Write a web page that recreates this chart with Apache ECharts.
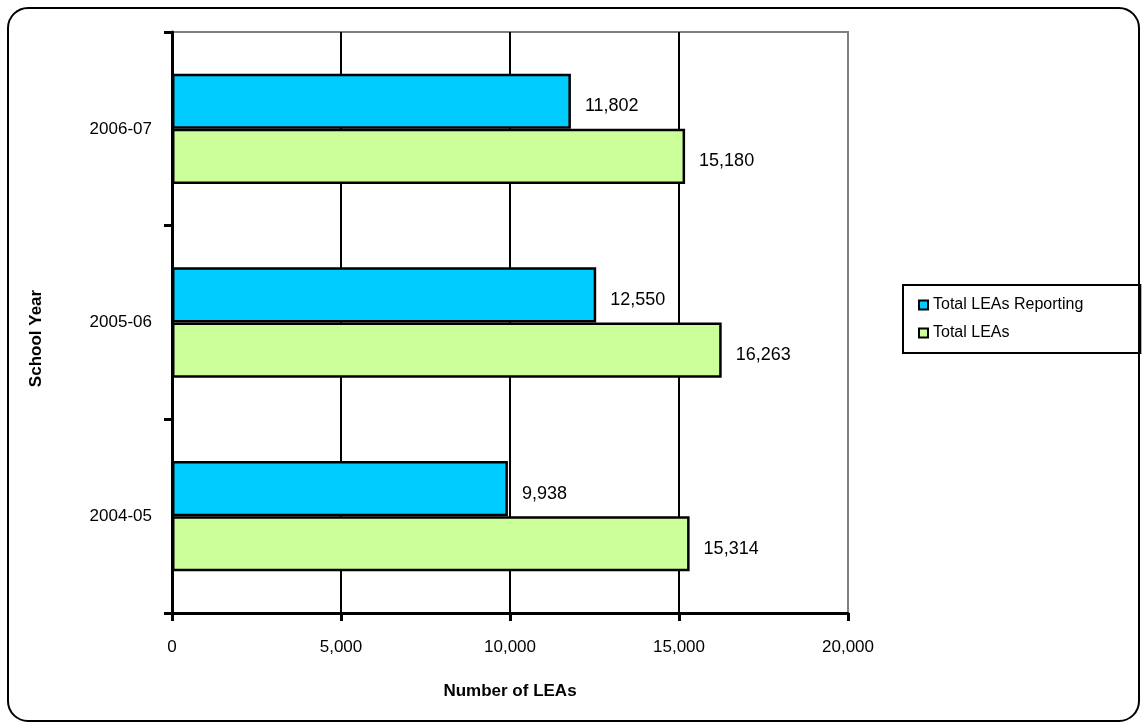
<!DOCTYPE html>
<html>
<head>
<meta charset="utf-8">
<script src="https://cdn.jsdelivr.net/npm/echarts@6/dist/echarts.min.js"></script>
<style>html,body{margin:0;padding:0;background:#fff}#c{width:1145px;height:727px}</style>
</head>
<body>
<div id="c"></div>
<script>
const categories = ['2004-05', '2005-06', '2006-07'];
const reporting = [9938, 12550, 11802];
const totals = [15314, 16263, 15180];
const xTicks = [0, 5000, 10000, 15000, 20000];
const seriesNames = ['Total LEAs Reporting', 'Total LEAs'];

const FONT = '"Liberation Sans", Arial, sans-serif';
const chart = echarts.init(document.getElementById('c'));
const fmt = v => v.toLocaleString('en-US');
const labelCfg = {
  show: true, position: 'right', distance: 14, offset: [0, 5],
  color: '#000', fontFamily: FONT, fontSize: 18,
  formatter: p => fmt(p.value)
};
chart.setOption({
  backgroundColor: '#fff',
  animation: false,
  graphic: [{
    type: 'rect', left: 7, top: 7, z: -10,
    shape: { width: 1131, height: 713, r: 20 },
    style: { fill: '#fff', stroke: '#000', lineWidth: 2 }
  }],
  grid: {
    left: 172, top: 32, right: 297, bottom: 114,
    show: true, borderColor: '#808080', borderWidth: 2, backgroundColor: 'transparent'
  },
  legend: {
    orient: 'vertical', left: 903, top: 285,
    data: seriesNames,
    icon: 'rect', itemWidth: 9, itemHeight: 9, itemGap: 12,
    borderColor: '#000', borderWidth: 2, padding: [12, 57, 12, 15],
    textStyle: { fontFamily: FONT, fontSize: 16, color: '#000' },
    itemStyle: { borderColor: '#000', borderWidth: 2 }
  },
  xAxis: {
    type: 'value', min: xTicks[0], max: xTicks[xTicks.length - 1], interval: xTicks[1] - xTicks[0],
    name: 'Number of LEAs', nameLocation: 'middle', nameGap: 70,
    nameTextStyle: { fontFamily: FONT, fontSize: 17, fontWeight: 'bold', color: '#000' },
    axisLine: { show: true, lineStyle: { color: '#000', width: 3 } },
    axisTick: { show: true, length: 8, lineStyle: { color: '#000', width: 3 } },
    axisLabel: { fontFamily: FONT, fontSize: 17, color: '#000', margin: 26, formatter: v => fmt(v) },
    splitLine: { show: true, showMaxLine: false, lineStyle: { color: '#000', width: 2 } }
  },
  yAxis: {
    type: 'category', data: categories,
    name: 'School Year', nameLocation: 'middle', nameGap: 127, nameRotate: 90,
    nameTextStyle: { fontFamily: FONT, fontSize: 17, fontWeight: 'bold', color: '#000', padding: [0, 32, 0, 0] },
    axisLine: { show: true, lineStyle: { color: '#000', width: 3 } },
    axisTick: { show: true, length: 8, lineStyle: { color: '#000', width: 3 } },
    axisLabel: { fontFamily: FONT, fontSize: 17, color: '#000', margin: 20 },
    splitLine: { show: false }
  },
  series: [
    {
      name: seriesNames[0], type: 'bar', data: reporting,
      barGap: '0%', barCategoryGap: '43%',
      itemStyle: { color: '#00CCFF', borderColor: '#000', borderWidth: 2.5 },
      label: labelCfg
    },
    {
      name: seriesNames[1], type: 'bar', data: totals,
      barGap: '0%', barCategoryGap: '43%',
      itemStyle: { color: '#CCFF99', borderColor: '#000', borderWidth: 2.5 },
      label: labelCfg
    }
  ]
});
</script>
</body>
</html>
